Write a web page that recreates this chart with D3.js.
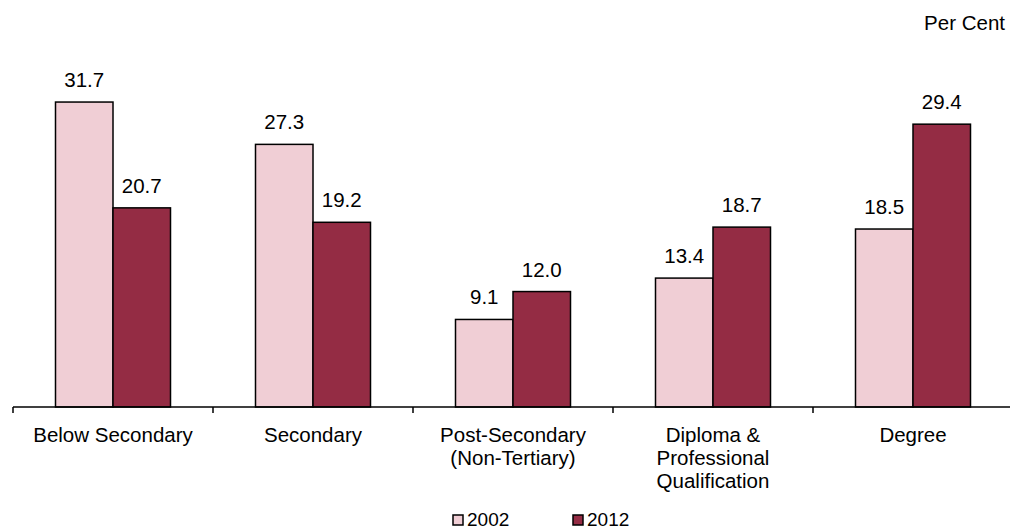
<!DOCTYPE html>
<html>
<head>
<meta charset="utf-8">
<script src="https://cdn.jsdelivr.net/npm/d3@7"></script>
<style>
html,body{margin:0;padding:0;background:#fff;}
svg{display:block;font-family:"Liberation Sans",Arial,sans-serif;}
</style>
</head>
<body>
<svg id="chart" width="1010" height="531"></svg>
<script>
const categories = [
  ["Below Secondary"],
  ["Secondary"],
  ["Post-Secondary", "(Non-Tertiary)"],
  ["Diploma &", "Professional", "Qualification"],
  ["Degree"]
];
const seriesNames = ["2002", "2012"];
const values2002 = [31.7, 27.3, 9.1, 13.4, 18.5];
const values2012 = [20.7, 19.2, 12.0, 18.7, 29.4];
const colors = ["#F0CED5", "#942C44"];

const FS = 20.5;
const svg = d3.select("#chart");
const catKeys = categories.map(c => c.join(" "));
const series = [values2002, values2012];

const x0 = d3.scaleBand().domain(catKeys).range([13, 1013]);
const x1 = d3.scaleBand().domain(seriesNames).range([42.5, 157.5]);
const y = d3.scaleLinear().domain([0, 35]).range([407, 407 - 9.62 * 35]);

// bars
const groups = svg.selectAll("g.cat").data(catKeys).enter().append("g")
  .attr("transform", d => `translate(${x0(d)},0)`);

groups.each(function(cat, i) {
  const g = d3.select(this);
  seriesNames.forEach((s, j) => {
    const v = series[j][i];
    g.append("rect")
      .attr("x", x1(s))
      .attr("y", y(v))
      .attr("width", x1.bandwidth())
      .attr("height", y(0) - y(v))
      .attr("fill", colors[j])
      .attr("stroke", "#000")
      .attr("stroke-width", 1.5);
    g.append("text")
      .attr("x", x1(s) + x1.bandwidth() / 2)
      .attr("y", y(v) - 15)
      .attr("text-anchor", "middle")
      .attr("font-size", FS)
      .attr("fill", "#000")
      .text(v.toFixed(1));
  });
});

// axis
const axis = svg.append("g");
axis.append("line")
  .attr("x1", 13).attr("x2", 1010)
  .attr("y1", y(0)).attr("y2", y(0))
  .attr("stroke", "#000").attr("stroke-width", 1.5);
catKeys.forEach(k => {
  axis.append("line")
    .attr("x1", x0(k)).attr("x2", x0(k))
    .attr("y1", y(0)).attr("y2", y(0) + 6)
    .attr("stroke", "#000").attr("stroke-width", 1.5);
});
categories.forEach((lines, i) => {
  const t = axis.append("text")
    .attr("text-anchor", "middle")
    .attr("font-size", FS)
    .attr("fill", "#000");
  lines.forEach((ln, k) => {
    t.append("tspan")
      .attr("x", x0(catKeys[i]) + x0.bandwidth() / 2)
      .attr("y", 442 + k * 23)
      .text(ln);
  });
});

// Per Cent
svg.append("text")
  .attr("x", 1005).attr("y", 30)
  .attr("text-anchor", "end")
  .attr("font-size", FS)
  .text("Per Cent");

// legend
const legendX = [453, 573];
seriesNames.forEach((s, j) => {
  svg.append("rect")
    .attr("x", legendX[j]).attr("y", 515)
    .attr("width", 10).attr("height", 10)
    .attr("fill", colors[j])
    .attr("stroke", "#000").attr("stroke-width", 1.5);
  svg.append("text")
    .attr("x", legendX[j] + 14).attr("y", 526)
    .attr("font-size", 19)
    .text(s);
});
</script>
</body>
</html>
